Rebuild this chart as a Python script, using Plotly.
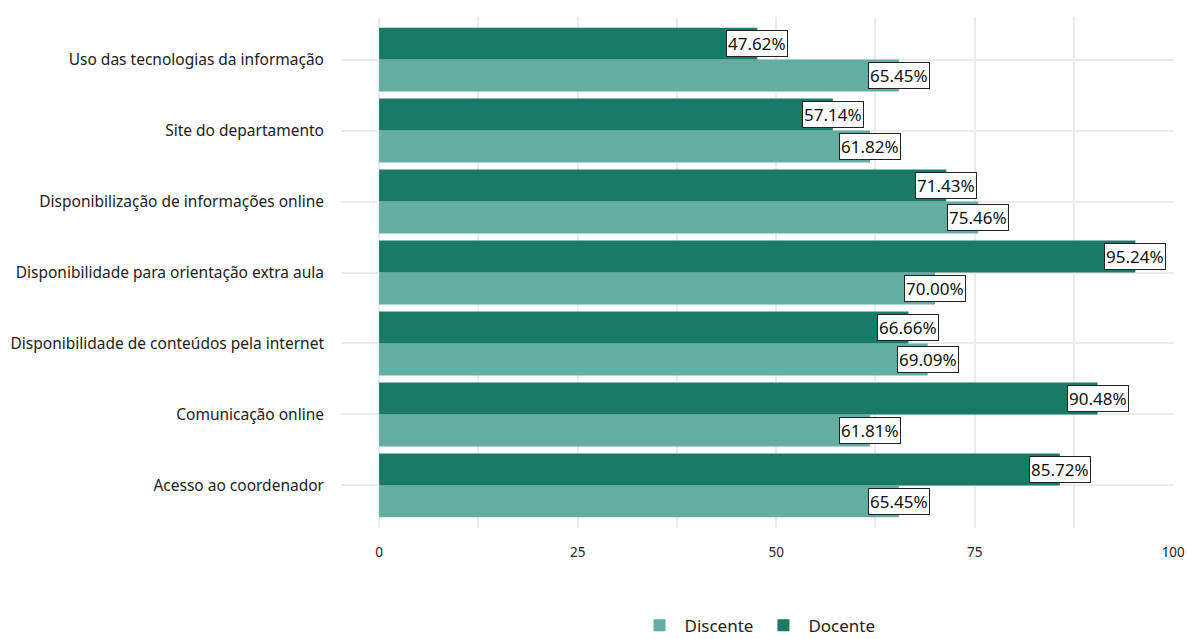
import plotly.graph_objects as go

categories = [
    "Acesso ao coordenador",
    "Comunicação online",
    "Disponibilidade de conteúdos pela internet",
    "Disponibilidade para orientação extra aula",
    "Disponibilização de informações online",
    "Site do departamento",
    "Uso das tecnologias da informação",
]
discente = [65.45, 61.81, 69.09, 70.00, 75.46, 61.82, 65.45]
docente = [85.72, 90.48, 66.66, 95.24, 71.43, 57.14, 47.62]
x_ticks = [0, 25, 50, 75, 100]

c_disc = "#64ADA2"
c_doc = "#1A7A68"
font = "Noto Sans"

fig = go.Figure()
fig.add_trace(go.Bar(y=categories, x=discente, orientation="h", name="Discente",
                     marker=dict(color=c_disc, line=dict(width=0))))
fig.add_trace(go.Bar(y=categories, x=docente, orientation="h", name="Docente",
                     marker=dict(color=c_doc, line=dict(width=0))))

ann = []
for i, (d, t) in enumerate(zip(discente, docente)):
    for v, off in ((d, -0.225), (t, 0.225)):
        ann.append(dict(x=v, y=i + off, xref="x", yref="y", text=f"{v:.2f}%",
                        showarrow=False, bgcolor="white", bordercolor="#222",
                        borderwidth=1, borderpad=1,
                        font=dict(family=font, size=17, color="#111"),
                        xanchor="center", yanchor="middle"))

fig.update_layout(
    width=1187, height=639,
    margin=dict(l=341, r=13, t=17, b=111, autoexpand=False),
    paper_bgcolor="white", plot_bgcolor="white",
    barmode="group", bargap=0.1, bargroupgap=0,
    font=dict(family=font, color="#222"),
    annotations=ann,
    showlegend=True,
    legend=dict(orientation="h", x=0.5, xanchor="center", yref="container",
                y=0.021, yanchor="middle",
                font=dict(family=font, size=17, color="#222"), traceorder="normal",
                itemwidth=40),
    xaxis=dict(range=[-4.8, 100.1], tickvals=x_ticks, ticktext=[str(v) for v in x_ticks],
               showgrid=True, gridcolor="#EBEBEB", gridwidth=2,
               minor=dict(dtick=12.5, tick0=0, showgrid=True, gridcolor="#EBEBEB", gridwidth=2),
               zeroline=False, showline=False, ticks="", automargin=False,
               tickfont=dict(family=font, size=13.5, color="#222"), ticklabelstandoff=14),
    yaxis=dict(type="category", categoryarray=categories, categoryorder="array",
               range=[-0.6, 6.6], showgrid=True, gridcolor="#EBEBEB", gridwidth=2,
               zeroline=False, showline=False, ticks="", automargin=False,
               tickfont=dict(family=font, size=15.5, color="#222"), ticklabelstandoff=16),
)

fig.write_html("out.html", config={"displayModeBar": False},
               post_script="document.body.style.margin='0';document.body.style.overflow='hidden';")
